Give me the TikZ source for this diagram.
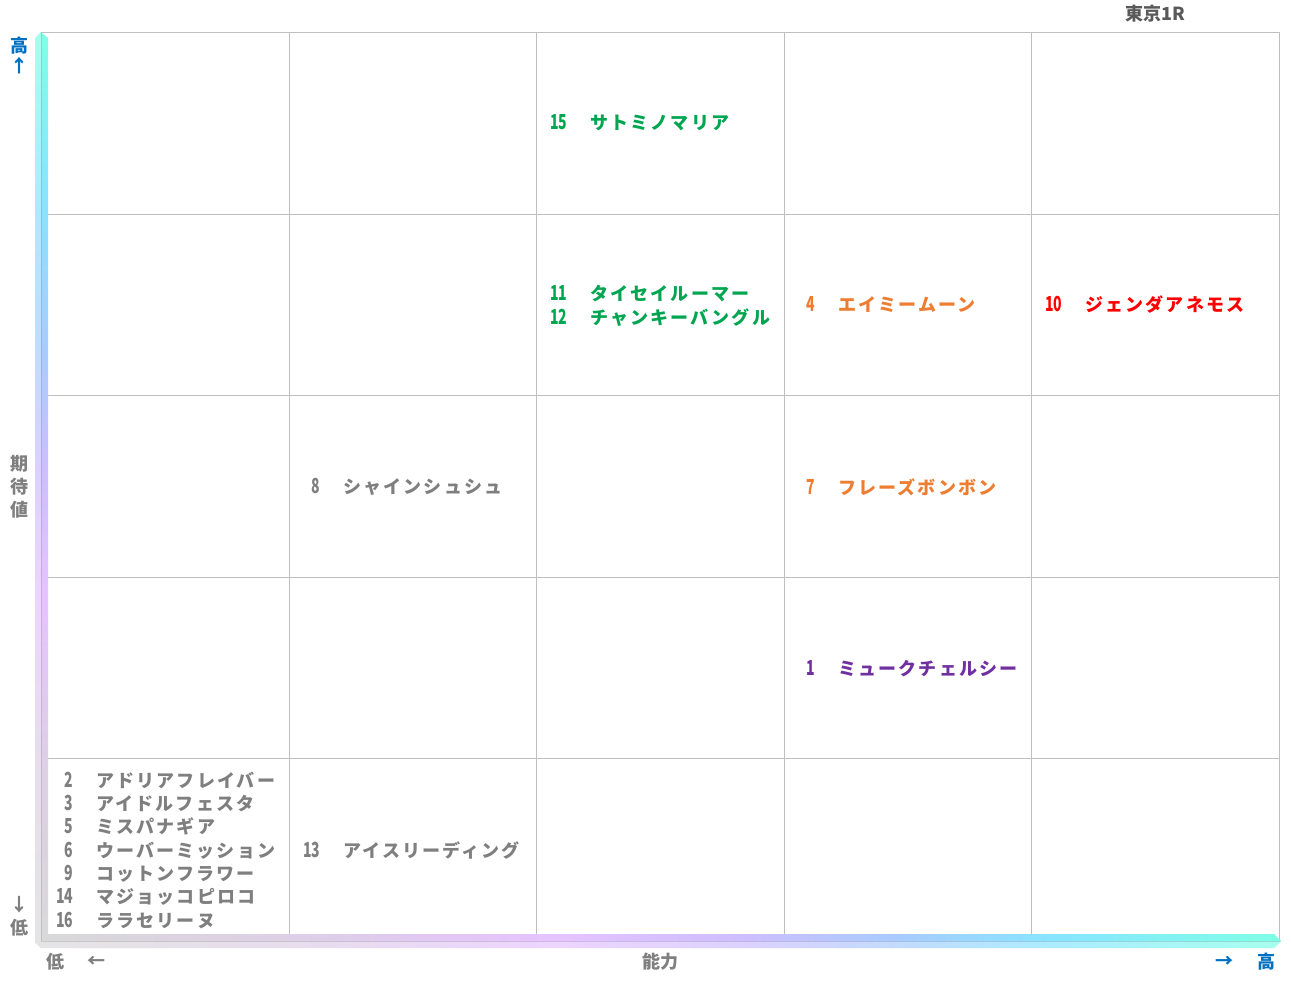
\documentclass[tikz,border=0pt]{standalone}
\usepackage{fontspec}
\usepackage{graphicx}
\newfontfamily\jp{Noto Sans CJK JP}[LetterSpace=12]
\newfontfamily\jpl{Noto Sans CJK JP}
\definecolor{cgreen}{HTML}{00A550}
\definecolor{corange}{HTML}{ED7D31}
\definecolor{cred}{HTML}{FF0000}
\definecolor{cpurple}{HTML}{7030A0}
\definecolor{cgray}{HTML}{7F7F7F}
\definecolor{cblue}{HTML}{0070C0}
\definecolor{cdark}{HTML}{595959}
\definecolor{cgrid}{HTML}{BFBFBF}
\definecolor{g0}{HTML}{D9D9D9}
\definecolor{g1}{HTML}{DDCFE6}
\definecolor{g2}{HTML}{E6C3FF}
\definecolor{g3}{HTML}{CCBEFF}
\definecolor{g4}{HTML}{A8CCFF}
\definecolor{g5}{HTML}{88E4FF}
\definecolor{g6}{HTML}{7FFFE6}
\pgfdeclareverticalshading{vbar}{100bp}{color(0bp)=(g0); color(25bp)=(g0); color(35bp)=(g1); color(44bp)=(g2); color(51bp)=(g3); color(57.5bp)=(g4); color(66bp)=(g5); color(75bp)=(g6); color(100bp)=(g6)}
\pgfdeclarehorizontalshading{hbar}{100bp}{color(0bp)=(g0); color(25bp)=(g0); color(35.6bp)=(g1); color(45.7bp)=(g2); color(53.7bp)=(g3); color(59.7bp)=(g4); color(65.7bp)=(g5); color(75bp)=(g6); color(100bp)=(g6)}
\newcommand\ent[2]{\makebox[20pt][r]{\scalebox{0.78}[1.15]{\jpl\bfseries #1}}\hspace{23pt}#2}
\tikzset{
  gridline/.style={draw=cgrid, line width=1pt},
  cell/.style={anchor=west, inner sep=0pt, align=left, font=\jp\bfseries\fontsize{18}{23.33}\selectfont},
  axlab/.style={inner sep=0pt, font=\jpl\bfseries\fontsize{18}{22}\selectfont},
}
\begin{document}
\begin{tikzpicture}[x=1pt,y=-1pt]
\useasboundingbox (0,0) rectangle (1291,983);
\fill[white] (0,0) rectangle (1291,983);
% grid
\foreach \xx in {289,536,784,1031,1279} \draw[gridline] (\xx,32) -- (\xx,940);
\foreach \yy in {32,214,395,577,758} \draw[gridline] (42,\yy) -- (1279,\yy);
% horizontal axis bar
\shade[shading=hbar] (35,934) -- (1274,934) -- (1281,941) -- (1274,948) -- (41,948) -- (35,942) -- cycle;
\fill[white,opacity=0.3] (35,941) -- (1281,941) -- (1274,948) -- (41,948) -- cycle;
\draw[black,opacity=0.12,line width=0.6pt] (41,941) -- (1281,941);
% vertical axis bar
\shade[shading=vbar] (35,38) -- (41,32) -- (48,38) -- (48,941) -- (41,941) -- (35,942) -- cycle;
\fill[white,opacity=0.3] (35,38) -- (41,32) -- (41,941) -- (35,942) -- cycle;
\draw[black,opacity=0.12,line width=0.6pt] (41,32) -- (41,941);
% cells
\node[cell,text=cgreen] (n15) at (547,123) {\ent{15}{サトミノマリア}};
\node[cell,text=cgreen] (n11) at (547,306) {\ent{11}{タイセイルーマー}\\\ent{12}{チャンキーバングル}};
\node[cell,text=corange] (n4) at (795,305) {\ent{4}{エイミームーン}};
\node[cell,text=cred] (n10) at (1042,305) {\ent{10}{ジェンダアネモス}};
\node[cell,text=cgray] (n8) at (300,487) {\ent{8}{シャインシュシュ}};
\node[cell,text=corange] (n7) at (795,487) {\ent{7}{フレーズボンボン}};
\node[cell,text=cpurple] (n1) at (795,669) {\ent{1}{ミュークチェルシー}};
\node[cell,text=cgray] (nlow) at (53,850) {\ent{2}{アドリアフレイバー}\\\ent{3}{アイドルフェスタ}\\\ent{5}{ミスパナギア}\\\ent{6}{ウーバーミッション}\\\ent{9}{コットンフラワー}\\\ent{14}{マジョッコピロコ}\\\ent{16}{ララセリーヌ}};
\node[cell,text=cgray] (n13) at (300,850) {\ent{13}{アイスリーディング}};
% axis labels
\node[axlab,text=cblue] (yhi) at (19,46) {高};
\node[axlab,text=cblue] (yhiar) at (19,66) {↑};
\node[axlab,text=cgray] (yl1) at (19,464) {期};
\node[axlab,text=cgray] (yl2) at (19,487) {待};
\node[axlab,text=cgray] (yl3) at (19,510) {値};
\node[axlab,text=cgray] (yloar) at (19,905) {↓};
\node[axlab,text=cgray] (ylo) at (19,928) {低};
\node[axlab,text=cgray] (xlo) at (55,962) {低};
\node[axlab,text=cgray] (xloar) at (96,962) {←};
\node[axlab,text=cgray] (xl) at (660,962) {能力};
\node[axlab,text=cblue] (xhiar) at (1224,962) {→};
\node[axlab,text=cblue] (xhi) at (1266,962) {高};
\node[axlab,text=cdark] (title) at (1155,14) {東京1R};
\end{tikzpicture}
\end{document}
